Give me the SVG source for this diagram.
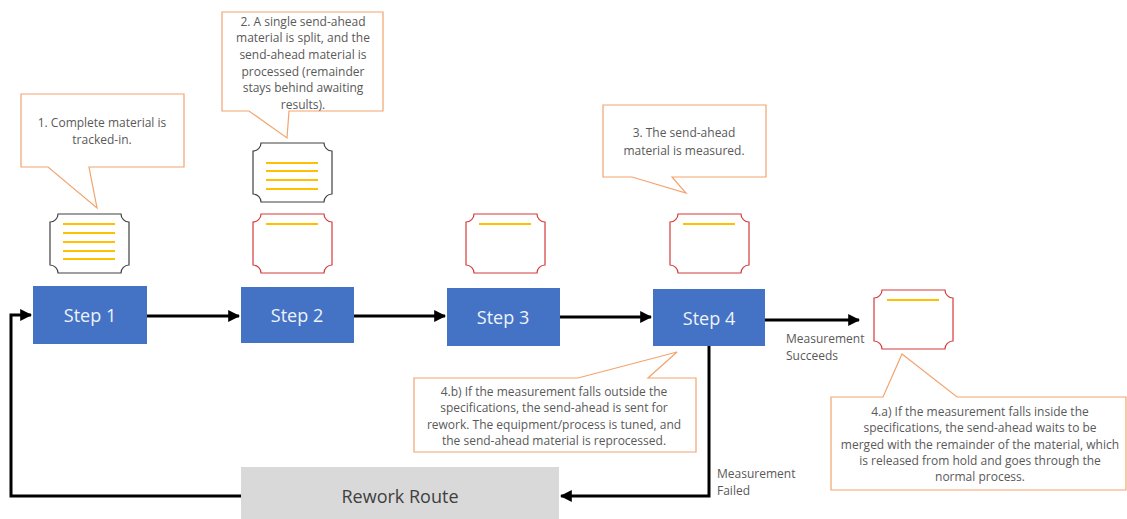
<svg xmlns="http://www.w3.org/2000/svg" xmlns:xlink="http://www.w3.org/1999/xlink" width="1127" height="519" viewBox="0 0 1127 519">
<style>
.step{fill:#4472c4}
.steptxt{font-family:"Open Sans","Noto Sans",sans-serif;font-size:18px;fill:#eef2fa;text-anchor:middle}
.call{fill:#ffffff;stroke:#f2a46e;stroke-width:1.2}
.ctxt{font-family:"Open Sans","Noto Sans",sans-serif;font-size:12px;fill:#595959;text-anchor:middle}
.ltxt{font-family:"Open Sans","Noto Sans",sans-serif;font-size:12px;fill:#595959}
.matg{fill:#ffffff;stroke:#404040;stroke-width:1.2}
.matr{fill:#ffffff;stroke:#d23a3a;stroke-width:1.2}
.yl{stroke:#ffc000;stroke-width:2}
.conn{fill:none;stroke:#000000;stroke-width:3}
</style>
<defs>
<path id="mat" d="M8,0 H71 A8,8 0 0 0 79,8 V51 A8,8 0 0 0 71,59 H8 A8,8 0 0 0 0,51 V8 A8,8 0 0 0 8,0 Z"/>
<marker id="arr" viewBox="0 0 10 10" refX="9" refY="5" markerWidth="4" markerHeight="4" orient="auto" markerUnits="strokeWidth">
<path d="M0,0 L10,5 L0,10 Z" fill="#000000"/>
</marker>
</defs>

<g id="connectors">
<line class="conn" x1="147" y1="316" x2="239" y2="316" marker-end="url(#arr)"/>
<line class="conn" x1="354" y1="316" x2="445" y2="316" marker-end="url(#arr)"/>
<line class="conn" x1="560" y1="317" x2="651" y2="317" marker-end="url(#arr)"/>
<line class="conn" x1="765" y1="320" x2="859" y2="320" marker-end="url(#arr)"/>
<polyline class="conn" points="709,346 709,496 561,496" marker-end="url(#arr)"/>
<polyline class="conn" points="241,496 11,496 11,315 31,315" marker-end="url(#arr)"/>
</g>

<g id="step1"><rect class="step" x="33" y="286" width="114" height="58"/><text class="steptxt" x="90" y="322">Step 1</text></g>
<g id="step2"><rect class="step" x="241" y="287" width="113" height="56"/><text class="steptxt" x="297" y="322">Step 2</text></g>
<g id="step3"><rect class="step" x="447" y="288" width="113" height="58"/><text class="steptxt" x="503" y="324">Step 3</text></g>
<g id="step4"><rect class="step" x="653" y="289" width="112" height="57"/><text class="steptxt" x="709" y="325">Step 4</text></g>

<g id="rework"><rect x="241" y="467" width="318" height="52" fill="#d9d9d9"/><text x="400" y="503" font-family="'Open Sans','Noto Sans',sans-serif" font-size="18" fill="#404040" text-anchor="middle">Rework Route</text></g>

<g id="material1">
<use xlink:href="#mat" class="matg" x="50" y="214"/>
<line class="yl" x1="63" y1="224" x2="115" y2="224"/>
<line class="yl" x1="63" y1="233" x2="115" y2="233"/>
<line class="yl" x1="63" y1="242" x2="115" y2="242"/>
<line class="yl" x1="63" y1="251" x2="115" y2="251"/>
<line class="yl" x1="63" y1="259" x2="115" y2="259"/>
</g>
<g id="material2-remainder">
<use xlink:href="#mat" class="matg" x="253" y="143"/>
<line class="yl" x1="266" y1="163" x2="318" y2="163"/>
<line class="yl" x1="266" y1="171" x2="318" y2="171"/>
<line class="yl" x1="266" y1="180" x2="318" y2="180"/>
<line class="yl" x1="266" y1="189" x2="318" y2="189"/>
</g>
<g id="material2-sendahead">
<use xlink:href="#mat" class="matr" x="253" y="214"/>
<line class="yl" x1="266" y1="224" x2="318" y2="224"/>
</g>
<g id="material3">
<use xlink:href="#mat" class="matr" x="466" y="214"/>
<line class="yl" x1="479" y1="224" x2="531" y2="224"/>
</g>
<g id="material4">
<use xlink:href="#mat" class="matr" x="670" y="214"/>
<line class="yl" x1="683" y1="224" x2="735" y2="224"/>
</g>
<g id="material5">
<use xlink:href="#mat" class="matr" x="874" y="290"/>
<line class="yl" x1="887" y1="300" x2="939" y2="300"/>
</g>

<g id="callout1">
<path class="call" d="M21,94 H184 V167 H89 L97,208 L48,167 H21 Z"/>
<text class="ctxt" x="102" y="127">1. Complete material is</text>
<text class="ctxt" x="102" y="144">tracked-in.</text>
</g>
<g id="callout2">
<path class="call" d="M222,12 H383 V111 H289 L287,138 L249,111 H222 Z"/>
<text class="ctxt" x="303" y="26">2. A single send-ahead</text>
<text class="ctxt" x="303" y="42">material is split, and the</text>
<text class="ctxt" x="303" y="59">send-ahead material is</text>
<text class="ctxt" x="303" y="76">processed (remainder</text>
<text class="ctxt" x="303" y="92">stays behind awaiting</text>
<text class="ctxt" x="303" y="109">results).</text>
</g>
<g id="callout3">
<path class="call" d="M603,105 H766 V177 H672 L686,193 L632,177 H603 Z"/>
<text class="ctxt" x="684" y="137">3. The send-ahead</text>
<text class="ctxt" x="684" y="155">material is measured.</text>
</g>
<g id="callout4b">
<path class="call" d="M414,378 H578 L677,352 L648,378 H696 V452 H414 Z"/>
<text class="ctxt" x="554" y="396">4.b) If the measurement falls outside the</text>
<text class="ctxt" x="554" y="412">specifications, the send-ahead is sent for</text>
<text class="ctxt" x="554" y="429">rework. The equipment/process is tuned, and</text>
<text class="ctxt" x="554" y="445">the send-ahead material is reprocessed.</text>
</g>
<g id="callout4a">
<path class="call" d="M831,397 H883 L902,354 L957,397 H1126 V490 H831 Z"/>
<text class="ctxt" x="980" y="416">4.a) If the measurement falls inside the</text>
<text class="ctxt" x="980" y="432">specifications, the send-ahead waits to be</text>
<text class="ctxt" x="980" y="449">merged with the remainder of the material, which</text>
<text class="ctxt" x="980" y="465">is released from hold and goes through the</text>
<text class="ctxt" x="980" y="481">normal process.</text>
</g>

<g id="label-succeeds">
<text class="ltxt" x="786" y="343">Measurement</text>
<text class="ltxt" x="786" y="360">Succeeds</text>
</g>
<g id="label-failed">
<text class="ltxt" x="717" y="478">Measurement</text>
<text class="ltxt" x="717" y="495">Failed</text>
</g>
</svg>
